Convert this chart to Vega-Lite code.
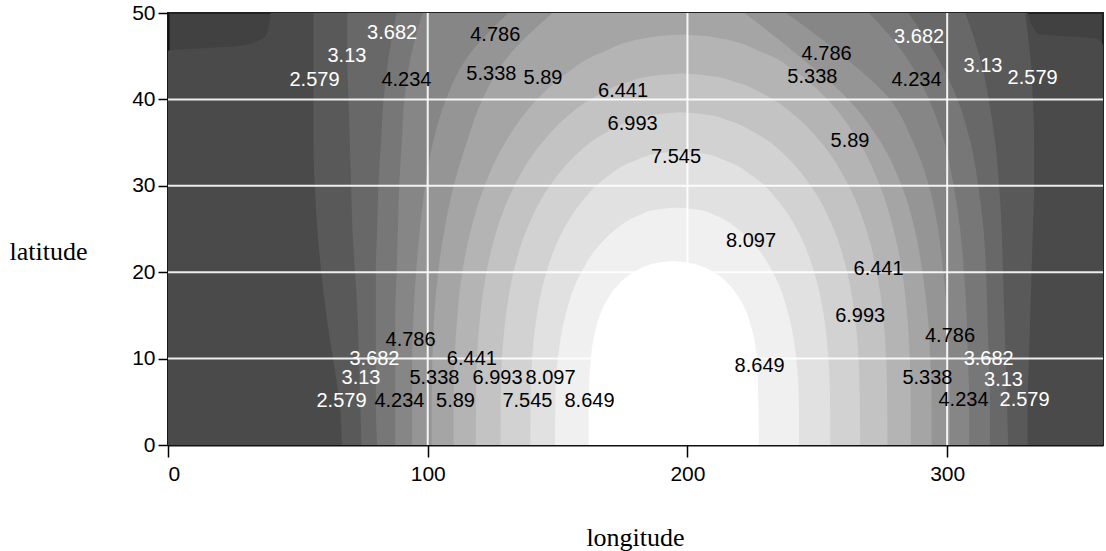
{
  "$schema": "https://vega.github.io/schema/vega-lite/v6.json",
  "width": 935,
  "height": 432,
  "autosize": {"type": "none"},
  "padding": {"left": 168, "top": 13, "right": 3, "bottom": 106},
  "background": "#ffffff",
  "config": {
    "view": {"stroke": "#222222", "strokeWidth": 2, "fill": "#414141"},
    "axis": {
      "labelFont": "Liberation Sans",
      "labelFontSize": 21,
      "labelColor": "#000000",
      "tickColor": "#000000",
      "tickWidth": 1.5,
      "domainColor": "#111111",
      "domainWidth": 2,
      "grid": false,
      "titleFont": "Liberation Serif",
      "titleFontSize": 26,
      "titleFontWeight": "normal",
      "titleColor": "#000000"
    },
    "axisY": {
      "tickSize": 10, "labelPadding": 3,
      "titleAngle": 0, "titleX": -120, "titleY": 238,
      "titleAlign": "center", "titleBaseline": "middle"
    },
    "axisX": {
      "tickSize": 12, "labelPadding": 6,
      "titleX": 467, "titleY": 92,
      "titleAlign": "center", "titleBaseline": "middle"
    }
  },
  "datasets": {
    "bands": [
      {"level": 2.027, "lat": 0, "lon": 0, "lon2": 360},
      {"level": 2.027, "lat": 45.6, "lon": 0, "lon2": 360},
      {"level": 2.027, "lat": 46.2, "lon": 28, "lon2": 360},
      {"level": 2.027, "lat": 47, "lon": 36, "lon2": 358},
      {"level": 2.027, "lat": 47.6, "lon": 38, "lon2": 335},
      {"level": 2.027, "lat": 50, "lon": 39.5, "lon2": 331},

      {"level": 2.579, "lat": 0, "lon": 67, "lon2": 331},
      {"level": 2.579, "lat": 5, "lon": 66, "lon2": 331},
      {"level": 2.579, "lat": 10, "lon": 63.5, "lon2": 331.5},
      {"level": 2.579, "lat": 15, "lon": 61, "lon2": 332},
      {"level": 2.579, "lat": 20, "lon": 59, "lon2": 332.5},
      {"level": 2.579, "lat": 25, "lon": 57.5, "lon2": 333},
      {"level": 2.579, "lat": 30, "lon": 56.5, "lon2": 333.5},
      {"level": 2.579, "lat": 35, "lon": 56, "lon2": 333.5},
      {"level": 2.579, "lat": 40, "lon": 56, "lon2": 333},
      {"level": 2.579, "lat": 45, "lon": 56, "lon2": 332},
      {"level": 2.579, "lat": 50, "lon": 56, "lon2": 330},

      {"level": 3.13, "lat": 0, "lon": 74.5, "lon2": 323.5},
      {"level": 3.13, "lat": 5, "lon": 74, "lon2": 323},
      {"level": 3.13, "lat": 10, "lon": 73.5, "lon2": 322.5},
      {"level": 3.13, "lat": 15, "lon": 73, "lon2": 322},
      {"level": 3.13, "lat": 20, "lon": 72, "lon2": 321.5},
      {"level": 3.13, "lat": 25, "lon": 71, "lon2": 321},
      {"level": 3.13, "lat": 30, "lon": 70.5, "lon2": 320},
      {"level": 3.13, "lat": 35, "lon": 70, "lon2": 318.5},
      {"level": 3.13, "lat": 40, "lon": 69.5, "lon2": 316},
      {"level": 3.13, "lat": 45, "lon": 69, "lon2": 312.5},
      {"level": 3.13, "lat": 50, "lon": 69, "lon2": 307},

      {"level": 3.682, "lat": 0, "lon": 80.5, "lon2": 316.5},
      {"level": 3.682, "lat": 5, "lon": 80, "lon2": 316.5},
      {"level": 3.682, "lat": 10, "lon": 80, "lon2": 316},
      {"level": 3.682, "lat": 15, "lon": 80, "lon2": 315.5},
      {"level": 3.682, "lat": 20, "lon": 80, "lon2": 315},
      {"level": 3.682, "lat": 25, "lon": 80.5, "lon2": 314},
      {"level": 3.682, "lat": 30, "lon": 81, "lon2": 312},
      {"level": 3.682, "lat": 35, "lon": 82, "lon2": 309},
      {"level": 3.682, "lat": 40, "lon": 83, "lon2": 304},
      {"level": 3.682, "lat": 45, "lon": 85, "lon2": 296},
      {"level": 3.682, "lat": 50, "lon": 88, "lon2": 285},

      {"level": 4.234, "lat": 0, "lon": 87.5, "lon2": 308.5},
      {"level": 4.234, "lat": 5, "lon": 87.5, "lon2": 308.5},
      {"level": 4.234, "lat": 10, "lon": 87.5, "lon2": 308},
      {"level": 4.234, "lat": 15, "lon": 87.5, "lon2": 307.5},
      {"level": 4.234, "lat": 20, "lon": 88, "lon2": 306.5},
      {"level": 4.234, "lat": 25, "lon": 88.5, "lon2": 305},
      {"level": 4.234, "lat": 30, "lon": 89, "lon2": 302.5},
      {"level": 4.234, "lat": 35, "lon": 90, "lon2": 299},
      {"level": 4.234, "lat": 40, "lon": 91, "lon2": 293},
      {"level": 4.234, "lat": 45, "lon": 93.5, "lon2": 284},
      {"level": 4.234, "lat": 50, "lon": 98, "lon2": 270},

      {"level": 4.786, "lat": 0, "lon": 94, "lon2": 301},
      {"level": 4.786, "lat": 5, "lon": 94, "lon2": 301},
      {"level": 4.786, "lat": 10, "lon": 94, "lon2": 300.5},
      {"level": 4.786, "lat": 15, "lon": 94.5, "lon2": 300},
      {"level": 4.786, "lat": 20, "lon": 95.5, "lon2": 298.5},
      {"level": 4.786, "lat": 25, "lon": 97, "lon2": 296.5},
      {"level": 4.786, "lat": 30, "lon": 99, "lon2": 293},
      {"level": 4.786, "lat": 35, "lon": 102, "lon2": 287},
      {"level": 4.786, "lat": 40, "lon": 107, "lon2": 278},
      {"level": 4.786, "lat": 45, "lon": 115.5, "lon2": 260},
      {"level": 4.786, "lat": 50, "lon": 131, "lon2": 238},

      {"level": 5.338, "lat": 0, "lon": 101.5, "lon2": 294},
      {"level": 5.338, "lat": 5, "lon": 101.5, "lon2": 294},
      {"level": 5.338, "lat": 10, "lon": 101.8, "lon2": 293.5},
      {"level": 5.338, "lat": 15, "lon": 102.5, "lon2": 292.5},
      {"level": 5.338, "lat": 20, "lon": 104, "lon2": 290.5},
      {"level": 5.338, "lat": 25, "lon": 106.5, "lon2": 287.5},
      {"level": 5.338, "lat": 30, "lon": 110, "lon2": 282.5},
      {"level": 5.338, "lat": 35, "lon": 115, "lon2": 274.5},
      {"level": 5.338, "lat": 40, "lon": 121, "lon2": 262},
      {"level": 5.338, "lat": 45, "lon": 131, "lon2": 243},
      {"level": 5.338, "lat": 50, "lon": 148, "lon2": 222},

      {"level": 5.89, "lat": 0, "lon": 110, "lon2": 286},
      {"level": 5.89, "lat": 5, "lon": 110, "lon2": 286},
      {"level": 5.89, "lat": 10, "lon": 110.4, "lon2": 285.6},
      {"level": 5.89, "lat": 15, "lon": 111.4, "lon2": 284.6},
      {"level": 5.89, "lat": 20, "lon": 113.3, "lon2": 282.7},
      {"level": 5.89, "lat": 25, "lon": 116.7, "lon2": 279.3},
      {"level": 5.89, "lat": 30, "lon": 121.9, "lon2": 274.1},
      {"level": 5.89, "lat": 35, "lon": 129.8, "lon2": 266.2},
      {"level": 5.89, "lat": 40, "lon": 142.1, "lon2": 253.9},
      {"level": 5.89, "lat": 43, "lon": 153.3, "lon2": 242.7},
      {"level": 5.89, "lat": 45.5, "lon": 167.4, "lon2": 228.6},
      {"level": 5.89, "lat": 47.25, "lon": 187, "lon2": 209},
      {"level": 5.89, "lat": 47.5, "lon": 198, "lon2": 198},

      {"level": 6.441, "lat": 0, "lon": 118.5, "lon2": 277},
      {"level": 6.441, "lat": 5, "lon": 118.6, "lon2": 276.9},
      {"level": 6.441, "lat": 10, "lon": 119, "lon2": 276.5},
      {"level": 6.441, "lat": 15, "lon": 120.2, "lon2": 275.3},
      {"level": 6.441, "lat": 20, "lon": 122.6, "lon2": 272.9},
      {"level": 6.441, "lat": 25, "lon": 126.7, "lon2": 268.8},
      {"level": 6.441, "lat": 30, "lon": 133.4, "lon2": 262.1},
      {"level": 6.441, "lat": 35, "lon": 144, "lon2": 251.5},
      {"level": 6.441, "lat": 38, "lon": 153.6, "lon2": 241.9},
      {"level": 6.441, "lat": 40.5, "lon": 165.6, "lon2": 229.9},
      {"level": 6.441, "lat": 42, "lon": 177, "lon2": 218.5},
      {"level": 6.441, "lat": 42.75, "lon": 187.3, "lon2": 208.2},
      {"level": 6.441, "lat": 43, "lon": 197.75, "lon2": 197.75},

      {"level": 6.993, "lat": 0, "lon": 128, "lon2": 266.5},
      {"level": 6.993, "lat": 5, "lon": 128.1, "lon2": 266.4},
      {"level": 6.993, "lat": 10, "lon": 128.6, "lon2": 265.9},
      {"level": 6.993, "lat": 15, "lon": 130.1, "lon2": 264.4},
      {"level": 6.993, "lat": 20, "lon": 133, "lon2": 261.5},
      {"level": 6.993, "lat": 25, "lon": 138.2, "lon2": 256.3},
      {"level": 6.993, "lat": 30, "lon": 147, "lon2": 247.5},
      {"level": 6.993, "lat": 33, "lon": 155.1, "lon2": 239.4},
      {"level": 6.993, "lat": 36, "lon": 167.7, "lon2": 226.8},
      {"level": 6.993, "lat": 37.5, "lon": 178.2, "lon2": 216.3},
      {"level": 6.993, "lat": 38.25, "lon": 187.6, "lon2": 206.9},
      {"level": 6.993, "lat": 38.5, "lon": 197.25, "lon2": 197.25},

      {"level": 7.545, "lat": 0, "lon": 139.5, "lon2": 255},
      {"level": 7.545, "lat": 5, "lon": 139.6, "lon2": 254.9},
      {"level": 7.545, "lat": 10, "lon": 140.2, "lon2": 254.3},
      {"level": 7.545, "lat": 15, "lon": 142, "lon2": 252.5},
      {"level": 7.545, "lat": 20, "lon": 145.7, "lon2": 248.8},
      {"level": 7.545, "lat": 25, "lon": 152.4, "lon2": 242.1},
      {"level": 7.545, "lat": 28, "lon": 158.9, "lon2": 235.6},
      {"level": 7.545, "lat": 31, "lon": 168.8, "lon2": 225.7},
      {"level": 7.545, "lat": 33, "lon": 180.3, "lon2": 214.1},
      {"level": 7.545, "lat": 33.75, "lon": 188.7, "lon2": 205.8},
      {"level": 7.545, "lat": 34, "lon": 197.25, "lon2": 197.25},

      {"level": 8.097, "lat": 0, "lon": 149, "lon2": 243},
      {"level": 8.097, "lat": 5, "lon": 149.1, "lon2": 242.9},
      {"level": 8.097, "lat": 10, "lon": 150.1, "lon2": 241.9},
      {"level": 8.097, "lat": 15, "lon": 153, "lon2": 239},
      {"level": 8.097, "lat": 20, "lon": 159.1, "lon2": 232.9},
      {"level": 8.097, "lat": 23, "lon": 165.7, "lon2": 226.3},
      {"level": 8.097, "lat": 25, "lon": 172.6, "lon2": 219.4},
      {"level": 8.097, "lat": 26.5, "lon": 180.8, "lon2": 211.2},
      {"level": 8.097, "lat": 27.25, "lon": 188.3, "lon2": 203.7},
      {"level": 8.097, "lat": 27.5, "lon": 196, "lon2": 196},

      {"level": 8.649, "lat": 0, "lon": 162, "lon2": 227.5},
      {"level": 8.649, "lat": 5, "lon": 162, "lon2": 227.3},
      {"level": 8.649, "lat": 9.7, "lon": 162.7, "lon2": 226.8},
      {"level": 8.649, "lat": 13.55, "lon": 164.8, "lon2": 224.7},
      {"level": 8.649, "lat": 16.45, "lon": 168.4, "lon2": 221},
      {"level": 8.649, "lat": 18.4, "lon": 172.9, "lon2": 216.5},
      {"level": 8.649, "lat": 19.85, "lon": 178.4, "lon2": 210.9},
      {"level": 8.649, "lat": 20.8, "lon": 184.9, "lon2": 204.3},
      {"level": 8.649, "lat": 21.05, "lon": 187.6, "lon2": 201.5},
      {"level": 8.649, "lat": 21.3, "lon": 194.5, "lon2": 194.5}
    ],
    "vgrid": [{"lon": 100}, {"lon": 200}, {"lon": 300}],
    "hgrid": [{"lat": 10}, {"lat": 20}, {"lat": 30}, {"lat": 40}],
    "labels": [
      {"label": "3.682", "lon": 86.3, "lat": 47.7},
      {"label": "3.13", "lon": 68.9, "lat": 45},
      {"label": "2.579", "lon": 56.4, "lat": 42.2},
      {"label": "4.234", "lon": 91.8, "lat": 42.2},
      {"label": "4.786", "lon": 126, "lat": 47.4},
      {"label": "5.338", "lon": 124.5, "lat": 42.9},
      {"label": "5.89", "lon": 144.4, "lat": 42.5},
      {"label": "6.441", "lon": 175.2, "lat": 41},
      {"label": "6.993", "lon": 178.9, "lat": 37.2},
      {"label": "7.545", "lon": 195.6, "lat": 33.3},
      {"label": "4.786", "lon": 253.6, "lat": 45.3},
      {"label": "5.338", "lon": 248.1, "lat": 42.6},
      {"label": "3.682", "lon": 289.2, "lat": 47.2},
      {"label": "4.234", "lon": 288.2, "lat": 42.2},
      {"label": "3.13", "lon": 313.8, "lat": 43.9},
      {"label": "2.579", "lon": 332.9, "lat": 42.5},
      {"label": "5.89", "lon": 262.6, "lat": 35.2},
      {"label": "8.097", "lon": 224.5, "lat": 23.6},
      {"label": "6.441", "lon": 273.6, "lat": 20.4},
      {"label": "6.993", "lon": 266.5, "lat": 14.9},
      {"label": "8.649", "lon": 227.8, "lat": 9.1},
      {"label": "4.786", "lon": 301.1, "lat": 12.6},
      {"label": "3.682", "lon": 316, "lat": 10},
      {"label": "5.338", "lon": 292.4, "lat": 7.8},
      {"label": "3.13", "lon": 321.7, "lat": 7.5},
      {"label": "4.234", "lon": 306.3, "lat": 5.2},
      {"label": "2.579", "lon": 329.8, "lat": 5.2},
      {"label": "4.786", "lon": 93.4, "lat": 12.2},
      {"label": "3.682", "lon": 79.5, "lat": 10},
      {"label": "6.441", "lon": 117, "lat": 10},
      {"label": "3.13", "lon": 74.3, "lat": 7.75},
      {"label": "5.338", "lon": 102.6, "lat": 7.75},
      {"label": "6.993", "lon": 126.9, "lat": 7.75},
      {"label": "8.097", "lon": 147.3, "lat": 7.75},
      {"label": "2.579", "lon": 66.8, "lat": 5.1},
      {"label": "4.234", "lon": 89.1, "lat": 5.1},
      {"label": "5.89", "lon": 110.7, "lat": 5.1},
      {"label": "7.545", "lon": 138.4, "lat": 5.1},
      {"label": "8.649", "lon": 162.3, "lat": 5.1}
    ]
  },
  "layer": [
    {
      "data": {"name": "bands"},
      "mark": {"type": "area", "orient": "horizontal", "interpolate": "monotone"},
      "encoding": {
        "y": {
          "field": "lat", "type": "quantitative",
          "scale": {"domain": [0, 50], "nice": false, "zero": false},
          "axis": {"title": "latitude", "values": [0, 10, 20, 30, 40, 50]}
        },
        "x": {
          "field": "lon", "type": "quantitative",
          "scale": {"domain": [0, 360], "nice": false, "zero": false},
          "axis": {"title": "longitude", "values": [0, 100, 200, 300]}
        },
        "x2": {"field": "lon2"},
        "color": {
          "field": "level", "type": "ordinal",
          "scale": {
            "domain": [2.027, 2.579, 3.13, 3.682, 4.234, 4.786, 5.338, 5.89, 6.441, 6.993, 7.545, 8.097, 8.649],
            "range": ["#4a4a4a", "#595959", "#686868", "#777777", "#868686", "#959595", "#a5a5a5", "#b4b4b4", "#c3c3c3", "#d2d2d2", "#e1e1e1", "#f0f0f0", "#ffffff"]
          },
          "legend": null
        }
      }
    },
    {
      "data": {"name": "vgrid"},
      "mark": {"type": "rule", "color": "#ffffff", "strokeWidth": 2, "opacity": 0.9},
      "encoding": {"x": {"field": "lon", "type": "quantitative", "axis": {"title": "longitude", "values": [0, 100, 200, 300]}}}
    },
    {
      "data": {"name": "hgrid"},
      "mark": {"type": "rule", "color": "#ffffff", "strokeWidth": 2, "opacity": 0.9},
      "encoding": {"y": {"field": "lat", "type": "quantitative", "axis": {"title": "latitude", "values": [0, 10, 20, 30, 40, 50]}}}
    },
    {
      "data": {"name": "labels"},
      "mark": {"type": "text", "font": "Liberation Sans", "fontSize": 20, "align": "center", "baseline": "middle"},
      "encoding": {
        "x": {"field": "lon", "type": "quantitative", "axis": {"title": "longitude", "values": [0, 100, 200, 300]}},
        "y": {"field": "lat", "type": "quantitative", "axis": {"title": "latitude", "values": [0, 10, 20, 30, 40, 50]}},
        "text": {"field": "label", "type": "nominal"},
        "color": {
          "condition": {"test": "toNumber(datum.label) < 4", "value": "#ffffff"},
          "value": "#000000"
        }
      }
    }
  ]
}
